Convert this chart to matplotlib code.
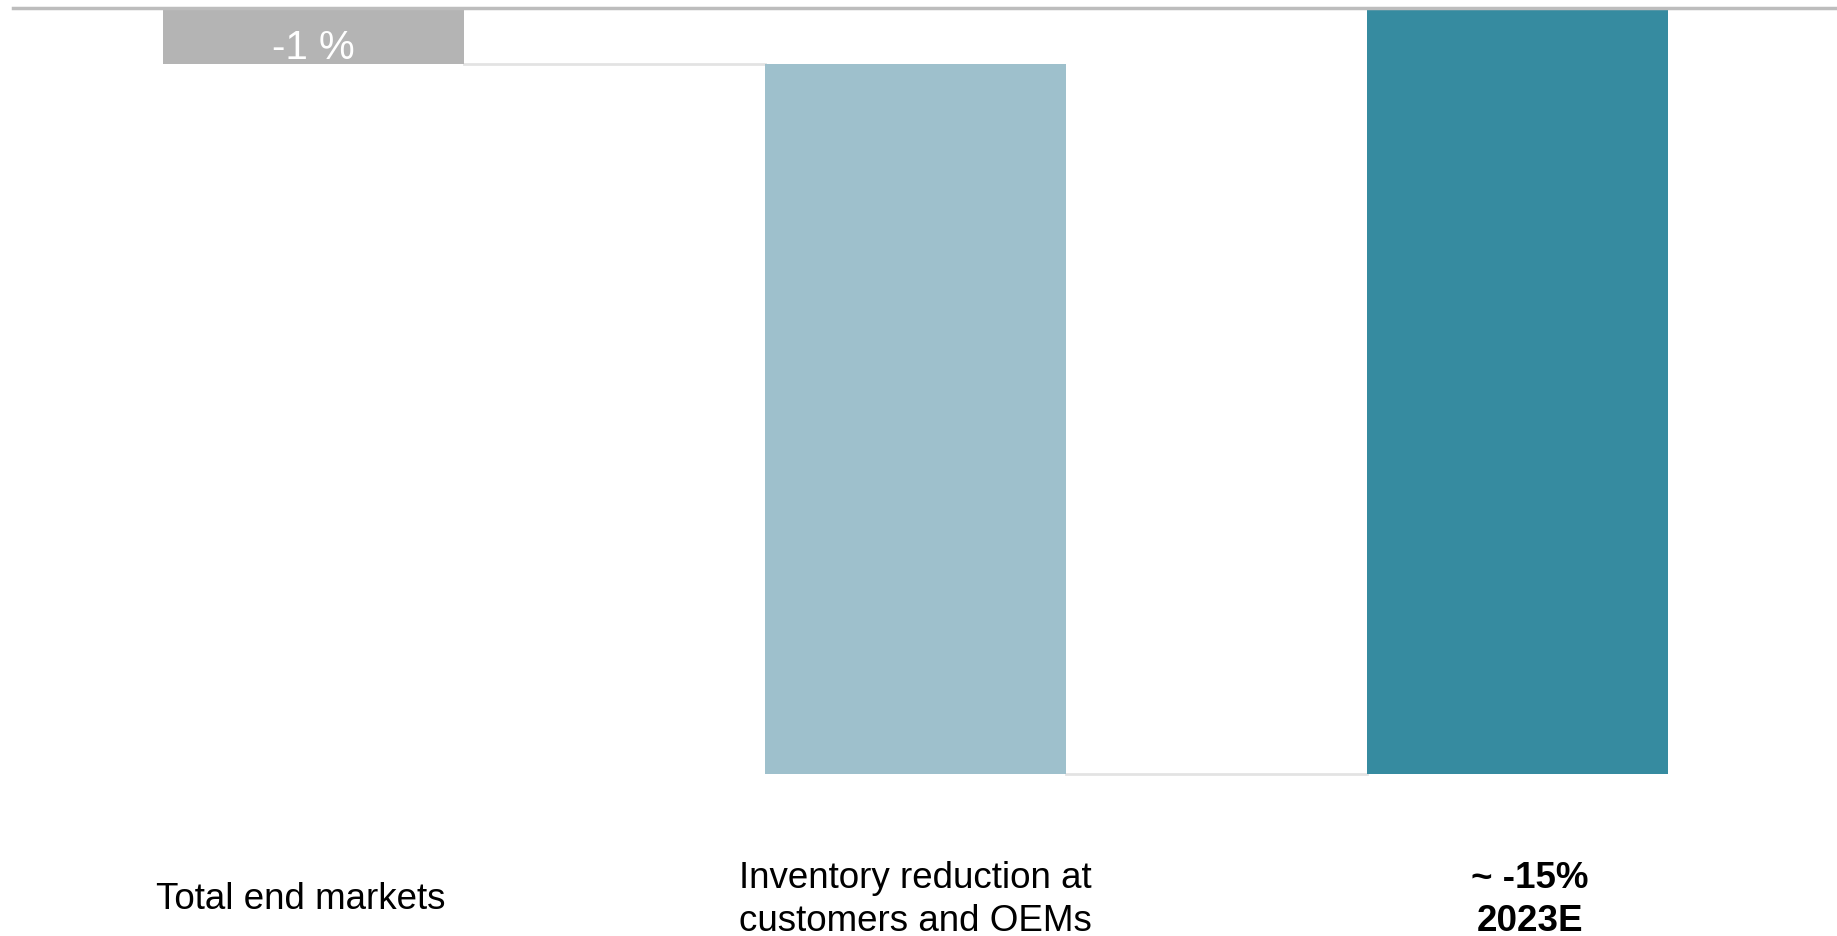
import matplotlib
matplotlib.use("Agg")
import matplotlib.pyplot as plt
import numpy as np

plt.rcParams['font.family'] = ['Liberation Sans', 'DejaVu Sans']

# waterfall data (percent change)
steps = ["Total end markets", "Inventory reduction at\ncustomers and OEMs"]
step_values = [-1.1, -13.9]
total_label = "~ -15%\n2023E"
total_value = -15
bar_text = ["-1 %"]
colors = ["#b4b4b4", "#9ec0cc", "#368ba0"]

fig = plt.figure(figsize=(18.37, 9.36), dpi=100)
ax = fig.add_axes([0, 0, 1, 1])

# step bars
ends = np.cumsum(step_values)
starts = ends - np.array(step_values)
x = np.arange(len(steps) + 1)
heights = list(step_values) + [total_value]
bottoms = list(starts) + [0]
w = 0.5
ax.bar(x, heights, bottom=bottoms, width=w, color=colors, zorder=2)

# connectors
conn_y = list(ends)
for i, yv in enumerate(conn_y):
    ax.plot([x[i] + w / 2, x[i + 1] - w / 2], [yv, yv], color="#e3e3e3", lw=2, zorder=1)

# baseline at zero
ax.axhline(0, xmin=0.007, xmax=1, color="#bdbdbd", lw=2.5, zorder=3)

# value inside first bar
ax.text(x[0], -0.78, bar_text[0], ha="center", va="center", color="white", fontsize=29, zorder=4)

# category labels below
lab_y = -17.46
ax.text(x[0] - 0.02, lab_y, steps[0], ha="center", va="center", fontsize=26.5)
ax.text(x[1], lab_y, steps[1], ha="center", va="center", fontsize=26.5,
        multialignment="left", linespacing=1.3)
ax.text(x[2] + 0.02, lab_y, total_label, ha="center", va="center", fontsize=26.5,
        fontweight="bold", linespacing=1.3)

ax.set_xlim(-0.52, 2.53)
ax.set_ylim(-18.17, 0.157)
ax.axis("off")

fig.savefig("out.png", dpi=100, facecolor="white")
